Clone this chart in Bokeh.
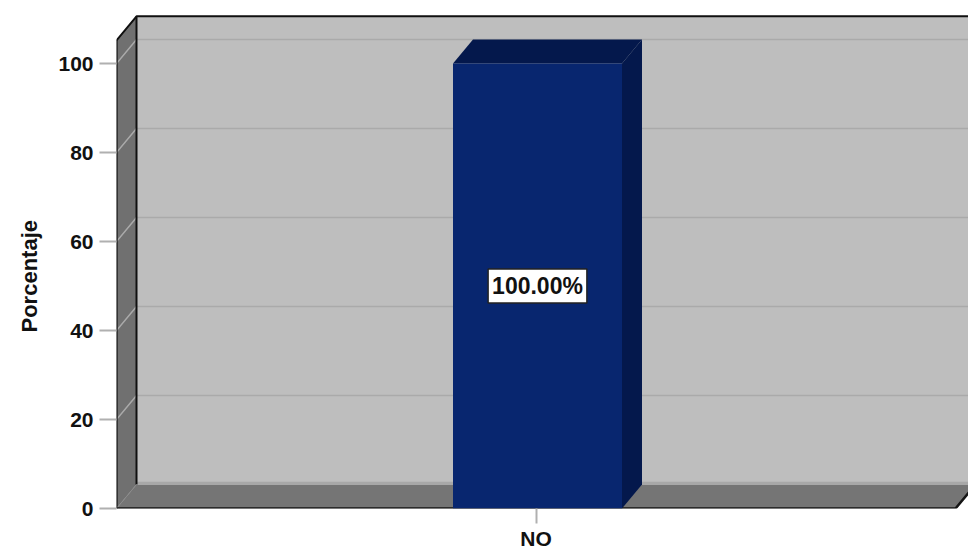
from bokeh.plotting import figure
from bokeh.models import FixedTicker, Range1d, Title
from bokeh.core.properties import value
from bokeh.embed import file_html
from bokeh.resources import INLINE

categories = ["NO"]
values = [100.0]
y_ticks = [0, 20, 40, 60, 80, 100]
y_label = "Porcentaje"

PX_X = 1 / 839          # x units per pixel
DX = 20 * PX_X          # 3D depth in x
DY = 24 / 4.45          # 3D depth in y (value units)
Y_TOP = 105.2           # top of the wall, front plane
X_END = 0.5             # right end of the floor, front plane
BAR_W = 169 * PX_X
BAR_OFF = 1.5 * PX_X
FONT = "Liberation Sans"

p = figure(width=968, height=552, output_backend="svg", toolbar_location=None,
           x_range=Range1d(-0.5, -0.5 + 852 * PX_X), y_range=Range1d(0, 508 / 4.45),
           min_border_left=116, min_border_right=0, min_border_top=0, min_border_bottom=44,
           outline_line_color=None, background_fill_color="white", border_fill_color="white")
p.xgrid.visible = False
p.ygrid.visible = False

L = -0.5
# back wall
p.patch([L + DX, X_END + 2 * DX, X_END + 2 * DX, L + DX], [DY, DY, Y_TOP + DY, Y_TOP + DY],
        fill_color="#bebebe", line_color=None)
# side wall
p.patch([L, L + DX, L + DX, L], [0, DY, Y_TOP + DY, Y_TOP], fill_color="#707070", line_color=None)
# floor
p.patch([L, L + DX, X_END + DX, X_END], [0, DY, DY, 0], fill_color="#757575", line_color=None)
# floor back edge band
p.line([L + DX, X_END + DX], [DY + 0.3, DY + 0.3], line_color="#a8a8a8", line_width=3)

# gridlines
for t in y_ticks[1:]:
    p.line([L, L + DX, X_END + 2 * DX], [t, t + DY, t + DY], line_color="#aaaaaa", line_width=1.5)

# frame edges
p.line([L, L], [0, Y_TOP], line_color="#202020", line_width=2.5)
p.line([L + DX, L + DX], [DY, Y_TOP + DY], line_color="#101010", line_width=2)
p.line([L, L + DX, X_END + 2 * DX], [Y_TOP, Y_TOP + DY, Y_TOP + DY], line_color="#101010", line_width=2)
p.line([L, L + DX], [0, DY], line_color="#8a8a8a", line_width=1)
p.line([L, X_END, X_END + DX], [0, 0, DY], line_color="#151515", line_width=2.5)

# bar
for i, v in enumerate(values):
    x0 = i + BAR_OFF - BAR_W / 2
    x1 = i + BAR_OFF + BAR_W / 2
    p.patch([x0, x0 + DX, x1 + DX, x1], [v, v + DY, v + DY, v], fill_color="#04184c", line_color=None)
    p.patch([x1, x1 + DX, x1 + DX, x1], [0, DY, v + DY, v], fill_color="#04184c", line_color=None)
    p.patch([x0, x1, x1, x0], [0, 0, v, v], fill_color="#08266f", line_color=None)
    p.text(x=[i + BAR_OFF], y=[v / 2], text=[f"{v:.2f}%"], text_align="center", text_baseline="middle",
           text_font=value(FONT), text_font_style="bold", text_font_size="23px", text_color="#111111",
           background_fill_color="white", border_line_color="#222222", border_line_width=1.5, padding=4)

# axes
p.yaxis.ticker = FixedTicker(ticks=y_ticks)
p.yaxis.axis_line_color = None
p.yaxis.major_tick_line_color = "#b0b0b0"
p.yaxis.major_tick_line_width = 2
p.yaxis.major_tick_out = 17
p.yaxis.major_tick_in = 0
p.yaxis.minor_tick_line_color = None
p.yaxis.major_label_standoff = 6
p.yaxis.major_label_text_font = FONT
p.yaxis.major_label_text_font_style = "bold"
p.yaxis.major_label_text_font_size = "21px"
p.yaxis.major_label_text_color = "#111111"

# axis title, placed lower than the frame's middle as in the reference
p.add_layout(Title(text=y_label, align="left", offset=176, standoff=27, text_font=FONT,
                   text_font_style="bold", text_font_size="22px", text_color="#111111"), "left")

p.xaxis.ticker = FixedTicker(ticks=list(range(len(categories))))
p.xaxis.major_label_overrides = {i: c for i, c in enumerate(categories)}
p.xaxis.axis_line_color = None
p.xaxis.major_tick_line_color = "#b0b0b0"
p.xaxis.major_tick_line_width = 2
p.xaxis.major_tick_out = 15
p.xaxis.major_tick_in = 0
p.xaxis.minor_tick_line_color = None
p.xaxis.major_label_standoff = 3
p.xaxis.major_label_text_font = FONT
p.xaxis.major_label_text_font_style = "bold"
p.xaxis.major_label_text_font_size = "21px"
p.xaxis.major_label_text_color = "#111111"

open("out.html", "w").write(file_html(p, INLINE))
